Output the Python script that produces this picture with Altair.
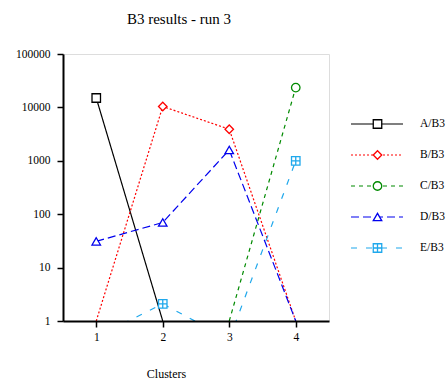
import altair as alt
import pandas as pd

clusters = [1, 2, 3, 4]
series = ["A/B3", "B/B3", "C/B3", "D/B3", "E/B3"]
a_vals = [15000, 1, None, None]
b_vals = [1, 10400, 3900, 1]
c_vals = [None, None, 1, 23500]
d_vals = [31, 70, 1600, 1]
e_vals = [0.5, 2.1, 0.45, 1000]

colors = ["#000000", "#ff0000", "#008a00", "#0000ee", "#1fa8ec"]
dashes = [[1, 0], [2, 2], [4, 4], [8, 4], [6, 9]]
shapes = ["square", "diamond", "circle", "triangle-up",
          "M-1,-1H1V1H-1Z M0,-1V1 M-1,0H1"]
y_ticks = [1, 10, 100, 1000, 10000, 100000]

rows = []
for name, vals in zip(series, [a_vals, b_vals, c_vals, d_vals, e_vals]):
    for c, v in zip(clusters, vals):
        if v is not None:
            rows.append({"cluster": c, "series": name, "value": v})
df = pd.DataFrame(rows)
leg_df = pd.DataFrame({"series": series})

FONT = "Liberation Serif"
color_scale = alt.Scale(domain=series, range=colors)
dash_scale = alt.Scale(domain=series, range=dashes)
shape_scale = alt.Scale(domain=series, range=shapes)

x_enc = alt.X("cluster:Q", scale=alt.Scale(domain=[0.5, 4.5], nice=False, zero=False),
              axis=alt.Axis(values=clusters, format="d", title="Clusters",
                            titleX=103, titleY=56, titleBaseline="alphabetic",
                            titleFont=FONT, titleFontSize=12, titleFontWeight="normal",
                            labelFont=FONT, labelFontSize=11.5, labelPadding=4,
                            tickSize=6, tickWidth=1.5, tickColor="black",
                            domainColor="black", domainWidth=2, grid=False,
                            labelColor="black", titleColor="black", zindex=1))
y_enc = alt.Y("value:Q", scale=alt.Scale(type="log", domain=[1, 100000], nice=False),
              axis=alt.Axis(values=y_ticks, format="d", title=None,
                            labelFont=FONT, labelFontSize=11.5, labelPadding=7,
                            tickSize=6, tickWidth=1.5, tickColor="black",
                            domainColor="black", domainWidth=2, grid=False,
                            labelColor="black", zindex=1))

base = alt.Chart(df)
lines = base.mark_line(clip=True, strokeWidth=1.2).encode(
    x=x_enc, y=y_enc,
    color=alt.Color("series:N", scale=color_scale, legend=None),
    strokeDash=alt.StrokeDash("series:N", scale=dash_scale, legend=None),
    detail="series:N",
)
points = base.mark_point(filled=False, fill="white", fillOpacity=1, size=72,
                         strokeWidth=1.3, clip=True, opacity=1).encode(
    x=x_enc, y=y_enc,
    color=alt.Color("series:N", scale=color_scale, legend=None),
    shape=alt.Shape("series:N", scale=shape_scale, legend=None),
).transform_filter(alt.datum.value > 1)

plot = alt.layer(lines, points)

leg_y = alt.Y("series:N", scale=alt.Scale(type="point", domain=series, range=[70, 194], padding=0),
              axis=None)
leg_base = alt.Chart(leg_df)
leg_lines = leg_base.mark_rule(strokeWidth=1.2).encode(
    x=alt.value(288), x2=alt.value(340), y=leg_y,
    color=alt.Color("series:N", scale=color_scale, legend=None),
    strokeDash=alt.StrokeDash("series:N", scale=dash_scale, legend=None),
)
leg_pts = leg_base.mark_point(filled=False, fill="white", fillOpacity=1, size=72,
                              strokeWidth=1.3, opacity=1).encode(
    x=alt.value(314.5), y=leg_y,
    color=alt.Color("series:N", scale=color_scale, legend=None),
    shape=alt.Shape("series:N", scale=shape_scale, legend=None),
)
leg_text = leg_base.mark_text(align="left", baseline="middle", font=FONT,
                              fontSize=11.5, color="black").encode(
    x=alt.value(357), y=leg_y, text="series:N",
)
legend = alt.layer(leg_lines, leg_pts, leg_text)

chart = alt.layer(plot, legend).resolve_scale(y="independent").properties(
    width=266, height=267,
    title=alt.TitleParams("B3 results - run 3", font=FONT, fontSize=15,
                          fontWeight="normal", anchor="middle", dx=-17,
                          offset=9, baseline="alphabetic", color="black"),
    autosize=alt.AutoSizeParams(type="none"),
    padding={"left": 63, "top": 54, "right": 119, "bottom": 58},
).configure_view(stroke="black", strokeWidth=2).configure_axis(
    zindex=1, labelFont=FONT, titleFont=FONT
).configure(background="white")

chart.save("out.html", embed_options={"renderer": "svg", "actions": False})
